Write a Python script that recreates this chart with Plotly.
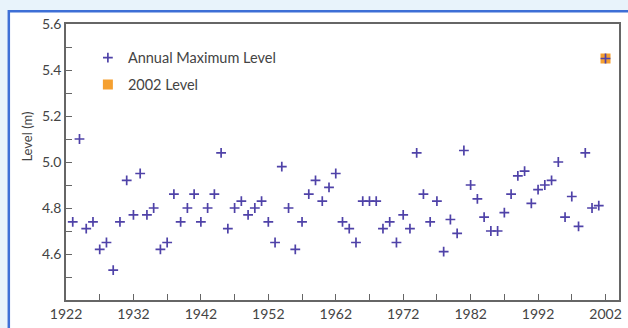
import plotly.graph_objects as go

# ---- data ----
years = list(range(1923, 2002))
levels = [
    4.74, 5.10, 4.71, 4.74, 4.62, 4.65, 4.53, 4.74, 4.92, 4.77,
    4.95, 4.77, 4.80, 4.62, 4.65, 4.86, 4.74, 4.80, 4.86, 4.74,
    4.80, 4.86, 5.04, 4.71, 4.80, 4.83, 4.77, 4.80, 4.83, 4.74,
    4.65, 4.98, 4.80, 4.62, 4.74, 4.86, 4.92, 4.83, 4.89, 4.95,
    4.74, 4.71, 4.65, 4.83, 4.83, 4.83, 4.71, 4.74, 4.65, 4.77,
    4.71, 5.04, 4.86, 4.74, 4.83, 4.61, 4.75, 4.69, 5.05, 4.90,
    4.84, 4.76, 4.70, 4.70, 4.78, 4.86, 4.94, 4.96, 4.82, 4.88,
    4.90, 4.92, 5.00, 4.76, 4.85, 4.72, 5.04, 4.80, 4.81,
]
year_2002 = [2002]
level_2002 = [5.45]

x_tick_vals = [1922, 1932, 1942, 1952, 1962, 1972, 1982, 1992, 2002]
y_tick_vals = [4.6, 4.8, 5.0, 5.2, 5.4, 5.6]

PURPLE = "#4f42a8"
ORANGE = "#f5a030"
AXIS = "#666666"
FONT = "Lato"

fig = go.Figure()

fig.add_trace(go.Scatter(
    x=year_2002, y=level_2002, mode="markers", name="2002 Level",
    legendgroup="b", legendrank=2,
    marker=dict(symbol="square", size=10, color=ORANGE, line=dict(width=0)),
))
fig.add_trace(go.Scatter(
    x=years + year_2002, y=levels + level_2002, mode="markers",
    name="Annual Maximum Level", legendgroup="a", legendrank=1,
    marker=dict(symbol="cross-thin", size=7, color=PURPLE,
                line=dict(width=1.7, color=PURPLE)),
))

# frame decoration: blue border around a white panel
fig.add_shape(type="rect", xref="paper", yref="paper",
              x0=(8.5 - 66) / 556, x1=(640 - 66) / 556,
              y0=(304 - 340) / 280, y1=(304 - 11) / 280,
              line=dict(color="#3d6fd6", width=2.5), fillcolor="white",
              layer="below")

fig.add_annotation(text="Level (m)", xref="paper", yref="paper",
                   x=(27 - 66) / 556, y=(304 - 138) / 280, textangle=-90,
                   xanchor="center", yanchor="middle",
                   showarrow=False, font=dict(family=FONT, size=13, color="#444"))

fig.update_layout(
    width=628, height=328,
    margin=dict(l=66, r=6, t=24, b=24),
    paper_bgcolor="#e8f3fb",
    plot_bgcolor="white",
    font=dict(family=FONT, size=14, color="#444"),
    showlegend=True,
    legend=dict(x=(88 - 66) / 556, y=(304 - 42) / 280, xanchor="left", yanchor="top",
                bgcolor="rgba(0,0,0,0)", traceorder="grouped", tracegroupgap=5,
                font=dict(family=FONT, size=14.5, color="#444")),
    xaxis=dict(range=[1922, 2004], tickvals=x_tick_vals, ticks="inside", ticklen=6,
               tickcolor=AXIS, showline=True, linecolor=AXIS, linewidth=1.5,
               mirror=True, showgrid=False, zeroline=False,
               minor=dict(dtick=5, tick0=1922, ticks="inside", ticklen=6,
                          tickcolor=AXIS, showgrid=False)),
    yaxis=dict(range=[4.4, 5.6], tickvals=y_tick_vals, tickformat=".1f",
               ticks="inside", ticklen=6, tickcolor=AXIS, showline=True,
               linecolor=AXIS, linewidth=1.5, mirror=True, showgrid=False,
               zeroline=False,
               minor=dict(dtick=0.1, tick0=4.4, ticks="inside", ticklen=6,
                          tickcolor=AXIS, showgrid=False)),
)

fig.write_html("out.html", config={"displayModeBar": False},
               post_script="document.body.style.margin='0';document.body.style.overflow='hidden';")
